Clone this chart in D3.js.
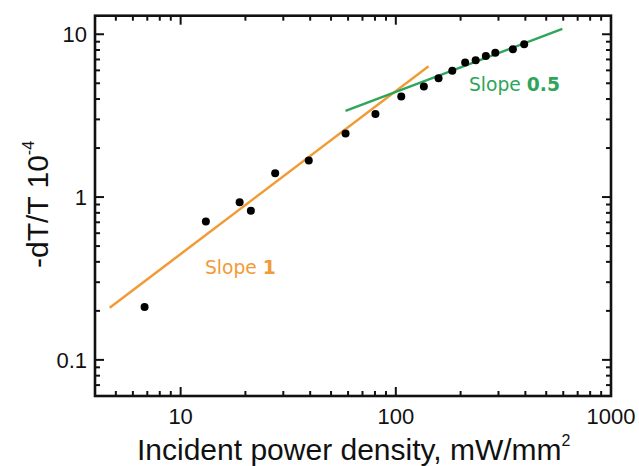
<!DOCTYPE html>
<html lang="en">
<head>
  <meta charset="UTF-8">
  <title>dT/T vs incident power density</title>
  <style>
    body { margin: 0; background: #fff; }
    svg { display: block; }
    .tick-label { font-family: "Liberation Sans", Arial, sans-serif; font-size: 22px; fill: #111; }
    .axis-title { font-family: "Liberation Sans", Arial, sans-serif; font-size: 30px; fill: #111; }
    .slope { font-family: "DejaVu Sans", Verdana, sans-serif; font-size: 18.7px; }
  </style>
</head>
<body>
  <svg id="chart" width="639" height="466"></svg>

  <script src="https://d3js.org/d3.v7.min.js"></script>
  <script>
    // measured points (power density mW/mm^2, -dT/T in 1e-4)
    const power = [6.8, 13.1, 18.8, 21.2, 27.5, 39.4, 58.4, 80.4, 106, 135, 158, 183, 210, 235, 262, 290, 350, 395];
    const signal = [0.211, 0.708, 0.93, 0.824, 1.40, 1.68, 2.46, 3.24, 4.14, 4.77, 5.37, 5.96, 6.70, 6.92, 7.36, 7.71, 8.09, 8.68];

    // fitted guide lines: end points
    const fitSlope1X = [4.68, 142];
    const fitSlope1Y = [0.209, 6.35];
    const fitSlope05X = [58.4, 594];
    const fitSlope05Y = [3.38, 10.78];

    const xTickLabels = [10, 100, 1000];
    const yTickLabels = [0.1, 1, 10];

    const orange = "#f29b36";
    const green = "#2ea55a";

    const svg = d3.select("#chart");
    const pLeft = 95, pRight = 611, pTop = 15.7, pBottom = 396;

    const x = d3.scaleLog().domain([4, 1000]).range([pLeft, pRight]);
    const y = d3.scaleLog().domain([0.06, 13]).range([pBottom, pTop]);

    // minor tick values for each decade inside the domain
    function logTicks(scale) {
      const [a, b] = scale.domain();
      const out = [];
      for (let e = Math.floor(Math.log10(a)); e <= Math.ceil(Math.log10(b)); e++) {
        for (let m = 1; m <= 9; m++) {
          const v = m * Math.pow(10, e);
          if (v >= a * 0.999 && v <= b * 1.001) out.push({ v, major: m === 1 });
        }
      }
      return out;
    }

    const majorLen = 9, minorLen = 5;
    const xt = logTicks(x), yt = logTicks(y);

    const ticks = svg.append("g").attr("stroke", "#111").attr("stroke-width", 2);
    // bottom + top
    ticks.selectAll(".xb").data(xt).join("line").attr("class", "xb")
      .attr("x1", d => x(d.v)).attr("x2", d => x(d.v))
      .attr("y1", pBottom).attr("y2", d => pBottom - (d.major ? majorLen : minorLen));
    ticks.selectAll(".xt").data(xt).join("line").attr("class", "xt")
      .attr("x1", d => x(d.v)).attr("x2", d => x(d.v))
      .attr("y1", pTop).attr("y2", d => pTop + (d.major ? majorLen : minorLen));
    // left + right
    ticks.selectAll(".yl").data(yt).join("line").attr("class", "yl")
      .attr("y1", d => y(d.v)).attr("y2", d => y(d.v))
      .attr("x1", pLeft).attr("x2", d => pLeft + (d.major ? majorLen : minorLen));
    ticks.selectAll(".yr").data(yt).join("line").attr("class", "yr")
      .attr("y1", d => y(d.v)).attr("y2", d => y(d.v))
      .attr("x1", pRight).attr("x2", d => pRight - (d.major ? majorLen : minorLen));

    // frame
    svg.append("rect")
      .attr("x", pLeft).attr("y", pTop)
      .attr("width", pRight - pLeft).attr("height", pBottom - pTop)
      .attr("fill", "none").attr("stroke", "#111").attr("stroke-width", 2.6);

    // tick labels
    svg.selectAll(".xl").data(xTickLabels).join("text")
      .attr("class", "tick-label xl")
      .attr("x", d => x(d)).attr("y", 424)
      .attr("text-anchor", "middle")
      .text(d => d);
    svg.selectAll(".ylab").data(yTickLabels).join("text")
      .attr("class", "tick-label ylab")
      .attr("x", 87).attr("y", d => y(d) + 8)
      .attr("text-anchor", "end")
      .text(d => d);

    // fit lines
    svg.append("line")
      .attr("x1", x(fitSlope1X[0])).attr("y1", y(fitSlope1Y[0]))
      .attr("x2", x(fitSlope1X[1])).attr("y2", y(fitSlope1Y[1]))
      .attr("stroke", orange).attr("stroke-width", 2.5);
    svg.append("line")
      .attr("x1", x(fitSlope05X[0])).attr("y1", y(fitSlope05Y[0]))
      .attr("x2", x(fitSlope05X[1])).attr("y2", y(fitSlope05Y[1]))
      .attr("stroke", green).attr("stroke-width", 2.5);

    // data points
    svg.selectAll(".dot").data(power).join("circle")
      .attr("class", "dot")
      .attr("cx", d => x(d)).attr("cy", (d, i) => y(signal[i]))
      .attr("r", 4).attr("fill", "#000");

    // slope annotations
    const s1 = svg.append("text").attr("class", "slope").attr("x", 205).attr("y", 274).attr("fill", orange);
    s1.append("tspan").text("Slope ");
    s1.append("tspan").attr("font-weight", "bold").text("1");
    const s2 = svg.append("text").attr("class", "slope").attr("x", 469).attr("y", 91).attr("fill", green);
    s2.append("tspan").text("Slope ");
    s2.append("tspan").attr("font-weight", "bold").text("0.5");

    // axis titles
    const xtitle = svg.append("text").attr("class", "axis-title")
      .attr("x", 137).attr("y", 460).attr("font-size", "32px");
    xtitle.append("tspan").text("Incident power density, mW/mm");
    xtitle.append("tspan").attr("font-size", "16px").attr("dy", -14).text("2");

    const ytitle = svg.append("text").attr("class", "axis-title")
      .attr("transform", "translate(48,268) rotate(-90)");
    ytitle.append("tspan").text("-dT/T 10");
    ytitle.append("tspan").attr("font-size", "16px").attr("dy", -14).text("-4");
  </script>
</body>
</html>
